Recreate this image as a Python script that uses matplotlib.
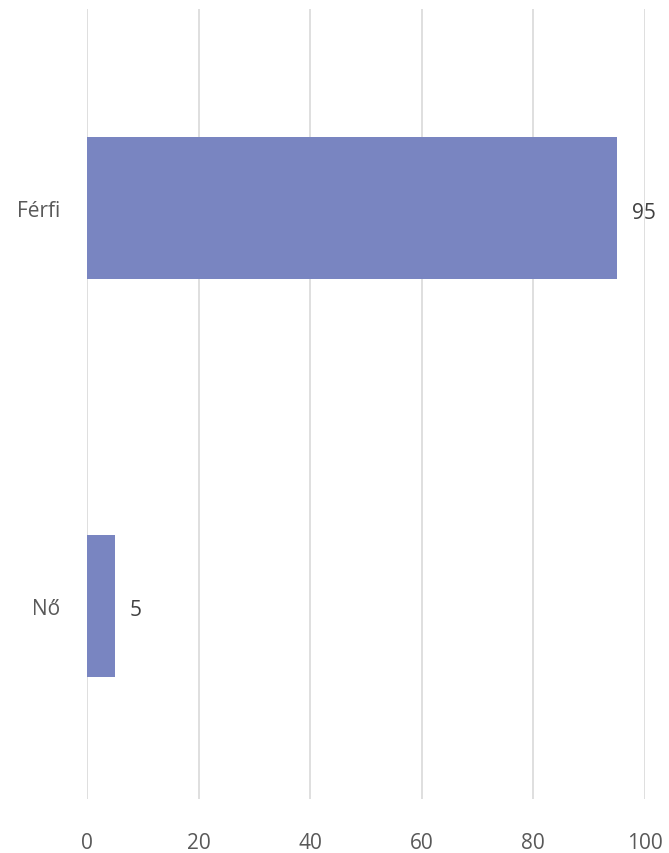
import matplotlib.pyplot as plt

categories = ["Férfi", "Nő"]
values = [95, 5]
xticks = [0, 20, 40, 60, 80, 100]

plt.rcParams["font.family"] = ["Open Sans", "DejaVu Sans"]

fig = plt.figure(figsize=(6.69, 8.54), dpi=100)
ax = fig.add_axes([0.130, 0.0632, 0.834, 0.925])

ypos = list(range(len(categories)))
ax.barh(ypos, values, height=0.357, color="#7985c1", zorder=3)

for y, v in zip(ypos, values):
    ax.text(v + 2.6, y + 0.01, str(v), va="center", ha="left",
            fontsize=15, color="#404040")

ax.set_xlim(0, 100)
ax.set_ylim(1.485, -0.5)
ax.set_xticks(xticks)
ax.set_xticklabels([str(t) for t in xticks], fontsize=15, color="#595959")
ax.set_yticks(ypos)
ax.set_yticklabels(categories, fontsize=15, color="#595959")
ax.tick_params(axis="x", length=0, pad=24)
ax.tick_params(axis="y", length=0, pad=19)

ax.grid(axis="x", color="#d9d9d9", lw=1.2, zorder=0)
for s in ax.spines.values():
    s.set_visible(False)

fig.savefig("out.png", dpi=100)
